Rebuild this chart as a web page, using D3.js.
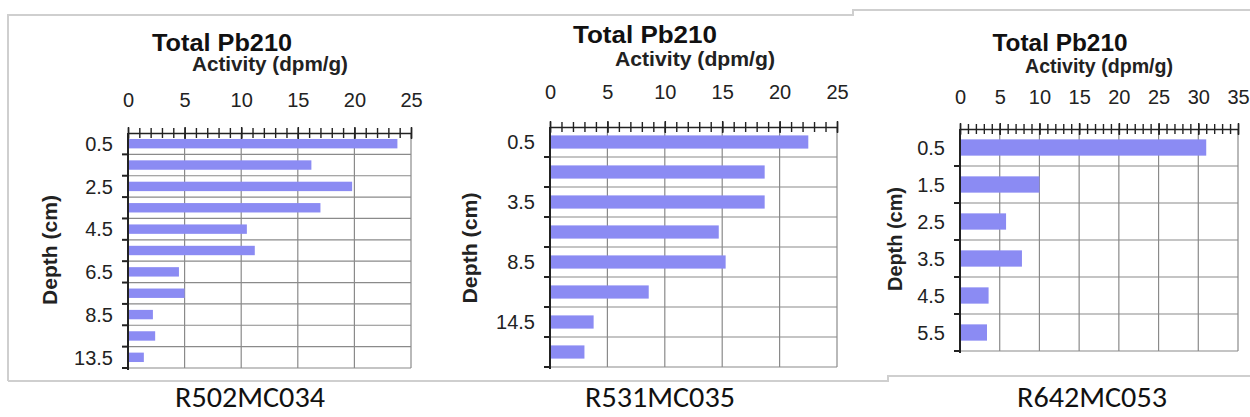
<!DOCTYPE html>
<html>
<head>
<meta charset="utf-8">
<script src="https://cdn.jsdelivr.net/npm/d3@7"></script>
<style>
  body { margin: 0; background: #fff; }
  svg { display: block; font-family: "Liberation Sans", Arial, sans-serif; }
</style>
</head>
<body>
<svg id="chart" width="1250" height="417"></svg>
<script>
// core names (bottom captions)
const cores = ["R502MC034", "R531MC035", "R642MC053"];

// depths (cm) per core, and which labels are printed
const depths1 = ["0.5", "1.5", "2.5", "3.5", "4.5", "5.5", "6.5", "7.5", "8.5", "10.5", "13.5"];
const depths2 = ["0.5", "2.5", "3.5", "6.5", "8.5", "11.5", "14.5", "18.5"];
const depths3 = ["0.5", "1.5", "2.5", "3.5", "4.5", "5.5"];
const shown1 = ["0.5", "2.5", "4.5", "6.5", "8.5", "13.5"];
const shown2 = ["0.5", "3.5", "8.5", "14.5"];
const shown3 = depths3;

// total Pb210 activity (dpm/g)
const activity1 = [23.8, 16.2, 19.8, 17.0, 10.5, 11.2, 4.5, 5.0, 2.2, 2.4, 1.4];
const activity2 = [22.5, 18.7, 18.7, 14.7, 15.3, 8.6, 3.8, 3.0];
const activity3 = [31.0, 10.0, 5.8, 7.8, 3.6, 3.4];

// x axis maximum per core
const xMax = [25, 25, 35];

const titleText = "Total Pb210";
const xTitle = "Activity (dpm/g)";
const yTitle = "Depth (cm)";

const panels = [
  { depths: depths1, shown: shown1, values: activity1, max: xMax[0],
    left: 128, right: 411, top: 133, bottom: 368, tw: 140, sw: 156, dw: 110,
    tx: 222, ty: 51, sx: 270, sy: 71, ly: 113, dx: 50, dy: 250, cx: 250 },
  { depths: depths2, shown: shown2, values: activity2, max: xMax[1],
    left: 550, right: 837, top: 127, bottom: 367, tw: 144, sw: 160, dw: 111,
    tx: 645, ty: 43, sx: 695, sy: 66, ly: 105, dx: 470, dy: 248, cx: 660 },
  { depths: depths3, shown: shown3, values: activity3, max: xMax[2],
    left: 960, right: 1238, top: 129, bottom: 351, tw: 135, sw: 148, dw: 104,
    tx: 1060, ty: 51, sx: 1099, sy: 73, ly: 110, dx: 895, dy: 239, cx: 1092 }
];

const svg = d3.select("#chart");

// pasted-screenshot frames
svg.append("path")
  .attr("d", "M8,381 V15 H853 V10 H1250 M8,381 H888 V376 H1250")
  .attr("fill", "none")
  .attr("stroke", "#cfcfcf")
  .attr("stroke-width", 2);

panels.forEach((p, k) => {
  const x = d3.scaleLinear().domain([0, p.max]).range([p.left, p.right]);
  const y = d3.scaleBand().domain(p.depths).range([p.top, p.bottom])
    .paddingInner(0.56).paddingOuter(0.28);
  const bounds = d3.range(p.depths.length + 1).map(i => p.top + i * (p.bottom - p.top) / p.depths.length);

  const g = svg.append("g");

  // grid
  g.selectAll(".vg").data(d3.range(5, p.max + 1, 5)).enter().append("line")
    .attr("x1", d => x(d)).attr("x2", d => x(d))
    .attr("y1", p.top).attr("y2", p.bottom)
    .attr("stroke", "#8a8a8a").attr("stroke-width", 1.2);
  g.selectAll(".hg").data(bounds.slice(1)).enter().append("line")
    .attr("x1", p.left).attr("x2", p.right)
    .attr("y1", d => d).attr("y2", d => d)
    .attr("stroke", "#8a8a8a").attr("stroke-width", 1.2);

  // bars
  g.selectAll(".bar").data(p.values).enter().append("rect")
    .attr("x", x(0))
    .attr("y", (d, i) => y(p.depths[i]))
    .attr("width", d => x(d) - x(0))
    .attr("height", y.bandwidth())
    .attr("fill", "#8b8bf3");

  // top axis: minor ticks
  g.append("g")
    .attr("transform", `translate(0,${p.top})`)
    .call(d3.axisTop(x).tickValues(d3.range(0, p.max + 1, 1)).tickFormat("").tickSize(5).tickSizeOuter(0))
    .call(a => a.select(".domain").attr("stroke", "#222").attr("stroke-width", 1.5))
    .call(a => a.selectAll(".tick line").attr("y2", -5).attr("y1", 5).attr("stroke", "#222").attr("stroke-width", 1.4));

  // top axis: major ticks + labels
  g.append("g")
    .attr("transform", `translate(0,${p.top})`)
    .call(d3.axisTop(x).tickValues(d3.range(0, p.max + 1, 5)).tickSize(6).tickSizeOuter(0).tickPadding(p.top - p.ly))
    .call(a => a.select(".domain").remove())
    .call(a => a.selectAll(".tick line").attr("y1", 6).attr("stroke", "#222").attr("stroke-width", 1.5))
    .call(a => a.selectAll(".tick text")
      .attr("font-size", 20).attr("font-family", "Liberation Sans, Arial, sans-serif")
      .attr("fill", "#222").attr("dy", 0));

  // left axis
  g.append("line")
    .attr("x1", p.left).attr("x2", p.left)
    .attr("y1", p.top).attr("y2", p.bottom + 2)
    .attr("stroke", "#222").attr("stroke-width", 2);
  g.selectAll(".yt").data(bounds.slice(1)).enter().append("line")
    .attr("x1", p.left - 6).attr("x2", p.left)
    .attr("y1", d => d).attr("y2", d => d)
    .attr("stroke", "#222").attr("stroke-width", 2);

  g.selectAll(".yl").data(p.shown).enter().append("text")
    .attr("x", p.left - 15)
    .attr("y", d => y(d) + y.bandwidth() / 2)
    .attr("dy", "0.36em")
    .attr("text-anchor", "end")
    .attr("font-size", 20)
    .attr("fill", "#222")
    .text(d => d);

  // titles
  g.append("text").attr("x", p.tx).attr("y", p.ty)
    .attr("text-anchor", "middle").attr("font-size", 23).attr("font-weight", "bold")
    .attr("textLength", p.tw).attr("lengthAdjust", "spacingAndGlyphs")
    .attr("fill", "#111").text(titleText);
  g.append("text").attr("x", p.sx).attr("y", p.sy)
    .attr("text-anchor", "middle").attr("font-size", 20).attr("font-weight", "bold")
    .attr("textLength", p.sw).attr("lengthAdjust", "spacingAndGlyphs")
    .attr("fill", "#222").text(xTitle);
  g.append("text")
    .attr("transform", `translate(${p.dx},${p.dy}) rotate(-90)`)
    .attr("text-anchor", "middle").attr("dy", "0.36em")
    .attr("font-size", 20).attr("font-weight", "bold")
    .attr("textLength", p.dw).attr("lengthAdjust", "spacingAndGlyphs")
    .attr("fill", "#222").text(yTitle);

  // caption
  svg.append("text")
    .attr("x", p.cx).attr("y", 407)
    .attr("text-anchor", "middle")
    .attr("font-family", "Liberation Sans Narrow, Carlito, Arial, sans-serif")
    .attr("font-size", 29)
    .attr("textLength", 150).attr("lengthAdjust", "spacingAndGlyphs")
    .attr("fill", "#111")
    .text(cores[k]);
});
</script>
</body>
</html>
